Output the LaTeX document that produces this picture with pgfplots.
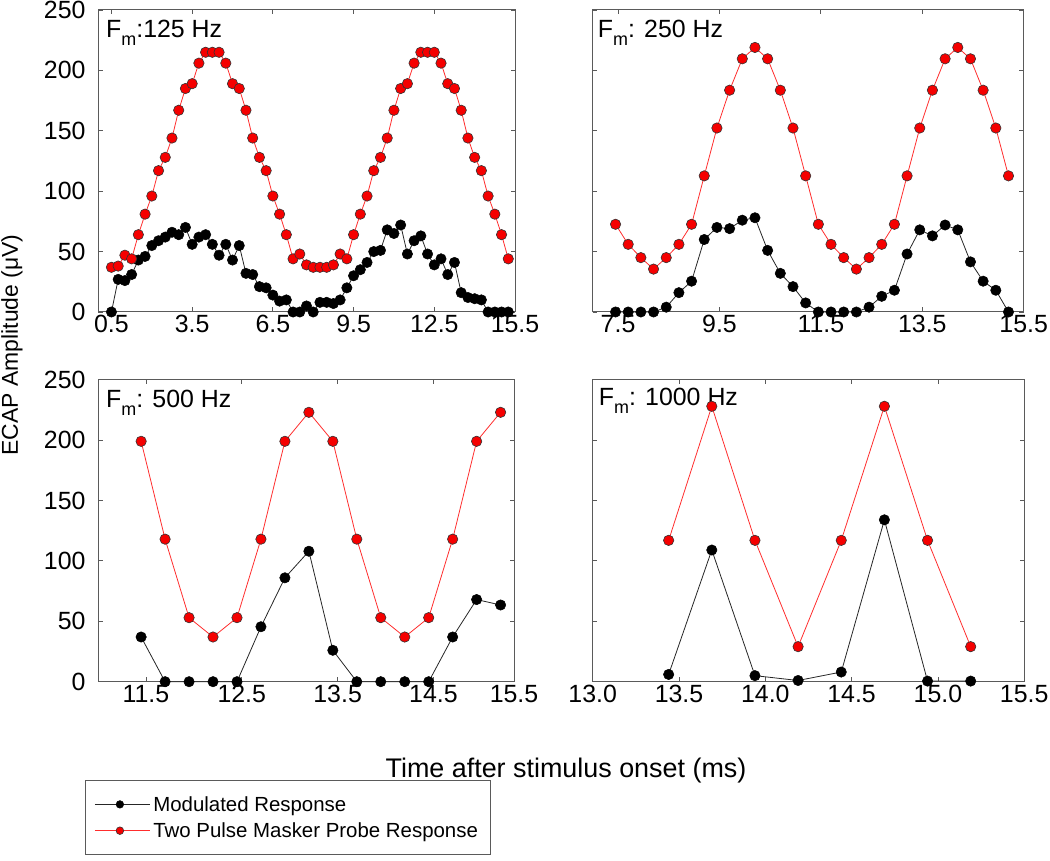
\documentclass[border=0pt]{standalone}
\usepackage{fontspec}
\setmainfont{Liberation Sans}
\usepackage{pgfplots}
\pgfplotsset{compat=1.18}
\definecolor{axgray}{RGB}{90,90,90}
\definecolor{redline}{RGB}{255,45,45}
\definecolor{redfill}{RGB}{245,0,0}
\newcommand{\tfont}{\fontsize{25}{29}\selectfont}
\newcommand{\Fm}[1]{F\raisebox{-0.33em}{\fontsize{18}{18}\selectfont m}#1}
\pgfplotsset{
  panel/.style={
    scale only axis,
    height=302bp,
    ymin=0, ymax=250,
    ytick={0,50,100,150,200,250},
    axis line style={axgray, line width=1bp},
    every tick/.style={axgray, line width=0.8bp},
    tick align=inside,
    major tick length=4.5bp,
    tick label style={font=\tfont, text=black},
    yticklabel style={xshift=-9bp},
    /pgf/number format/assume math mode=true,
    clip=false,
  },
  leftp/.style={yticklabels={0,50,100,150,200,250}},
  rightp/.style={yticklabels={}},
  blk/.style={color=black!85, line width=0.8bp, mark=*, mark size=5.2bp,
    mark options={fill=black, draw=black, solid, line width=0.5bp}},
  rd/.style={color=redline, line width=0.8bp, mark=*, mark size=5.2bp,
    mark options={fill=redfill, draw=black!80, solid, line width=0.6bp}},
}
\begin{document}
\begin{tikzpicture}
\path[use as bounding box] (0,0) rectangle (1050bp,861bp);

% ---------- Panel 1: 125 Hz ----------
\begin{axis}[panel, leftp, at={(98bp,549bp)}, anchor=south west, width=417bp,
  xmin=0, xmax=15.5,
  xtick={0.5,3.5,6.5,9.5,12.5,15.5},
  xticklabels={0.5,3.5,6.5,9.5,12.5,15.5}]
\addplot[blk] coordinates {
(0.5,0)(0.75,27)(1,26)(1.25,31)(1.5,43)(1.75,46)(2,55)(2.25,59)(2.5,62)(2.75,66)
(3,64)(3.25,70)(3.5,56)(3.75,62)(4,64)(4.25,56)(4.5,47)(4.75,56)(5,43)(5.25,55)
(5.5,32)(5.75,31)(6,21)(6.25,20)(6.5,14)(6.75,9)(7,10)(7.25,0)(7.5,0)(7.75,5)
(8,0)(8.25,8)(8.5,8)(8.75,7)(9,10)(9.25,20)(9.5,30)(9.75,35)(10,41)(10.25,50)
(10.5,51)(10.75,68)(11,65)(11.25,72)(11.5,48)(11.75,59)(12,63)(12.25,48)(12.5,39)(12.75,44)
(13,31)(13.25,41)(13.5,16)(13.75,12)(14,11)(14.25,10)(14.5,0)(14.75,0)(15,0)(15.25,0)};
\addplot[rd] coordinates {
(0.5,37)(0.75,38)(1,47)(1.25,44)(1.5,64)(1.75,81)(2,96)(2.25,117)(2.5,128)(2.75,144)
(3,167)(3.25,185)(3.5,189)(3.75,206)(4,215)(4.25,215)(4.5,215)(4.75,206)(5,189)(5.25,185)
(5.5,167)(5.75,144)(6,128)(6.25,117)(6.5,96)(6.75,81)(7,64)(7.25,44)(7.5,48)(7.75,39)
(8,37)(8.25,37)(8.5,37)(8.75,39)(9,48)(9.25,44)(9.5,64)(9.75,81)(10,96)(10.25,117)
(10.5,128)(10.75,144)(11,167)(11.25,185)(11.5,189)(11.75,206)(12,215)(12.25,215)(12.5,215)(12.75,206)
(13,189)(13.25,185)(13.5,167)(13.75,144)(14,128)(14.25,117)(14.5,96)(14.75,81)(15,64)(15.25,44)};
\node[anchor=base west, inner sep=0, font=\tfont] at (rel axis cs:0,1) [xshift=8bp, yshift=-27.5bp] {\Fm{:125 Hz}};
\end{axis}

% ---------- Panel 2: 250 Hz ----------
\begin{axis}[panel, rightp, at={(592.7bp,549bp)}, anchor=south west, width=431bp,
  xmin=7, xmax=15.5,
  xtick={7.5,9.5,11.5,13.5,15.5},
  xticklabels={7.5,9.5,11.5,13.5,15.5}]
\addplot[blk] coordinates {
(7.45,0)(7.7,0)(7.95,0)(8.2,0)(8.45,4)(8.7,16)(8.95,25.5)(9.2,60)(9.45,70)(9.7,69)
(9.95,76)(10.2,78)(10.45,51)(10.7,32)(10.95,21)(11.2,7.5)(11.45,0)(11.7,0)(11.95,0)(12.2,0)
(12.45,4)(12.7,13)(12.95,18)(13.2,48)(13.45,68)(13.7,63)(13.95,72)(14.2,68)(14.45,41.5)(14.7,25.5)
(14.95,18)(15.2,0)};
\addplot[rd] coordinates {
(7.45,72.6)(7.7,56)(7.95,45)(8.2,35.5)(8.45,45)(8.7,56)(8.95,72.6)(9.2,112.7)(9.45,152.3)(9.7,183.6)
(9.95,209.6)(10.2,219)(10.45,209.6)(10.7,183.6)(10.95,152.3)(11.2,112.7)(11.45,72.6)(11.7,56)(11.95,45)(12.2,35.5)
(12.45,45)(12.7,56)(12.95,72.6)(13.2,112.7)(13.45,152.3)(13.7,183.6)(13.95,209.6)(14.2,219)(14.45,209.6)(14.7,183.6)
(14.95,152.3)(15.2,112.7)};
\node[anchor=base west, inner sep=0, font=\tfont] at (rel axis cs:0,1) [xshift=5bp, yshift=-27.5bp] {\Fm{: 250 Hz}};
\end{axis}

% ---------- Panel 3: 500 Hz ----------
\begin{axis}[panel, leftp, at={(98bp,179.3bp)}, anchor=south west, width=416bp,
  xmin=11, xmax=15.34,
  xtick={11.5,12.5,13.5,14.5,15.34},
  xticklabels={11.5,12.5,13.5,14.5,15.5},
  legend style={at={(-0.031,-0.325)}, anchor=north west, draw=axgray, line width=0.8bp,
    font=\fontsize{20.5}{24}\selectfont, inner xsep=9bp, inner ysep=13bp, row sep=4bp,
    nodes={inner sep=3bp}},
  legend cell align=left,
  legend image code/.code={\path (0bp,0bp) -- (55bp,0bp);
    \draw[mark repeat=2, mark phase=2, mark size=3.8bp]
    plot coordinates {(2bp,0bp) (25bp,0bp) (48bp,0bp)};}]
\addplot[blk] coordinates {
(11.45,37)(11.7,0)(11.95,0)(12.2,0)(12.45,0)(12.7,45.5)(12.95,86)(13.2,108)
(13.45,26)(13.7,0)(13.95,0)(14.2,0)(14.45,0)(14.7,37)(14.95,68)(15.2,63.5)};
\addlegendentry{Modulated Response}
\addplot[rd] coordinates {
(11.45,199)(11.7,118)(11.95,53)(12.2,37)(12.45,53)(12.7,118)(12.95,199)(13.2,223)
(13.45,199)(13.7,118)(13.95,53)(14.2,37)(14.45,53)(14.7,118)(14.95,199)(15.2,223)};
\addlegendentry{Two Pulse Masker Probe Response}
\node[anchor=base west, inner sep=0, font=\tfont] at (rel axis cs:0,1) [xshift=8bp, yshift=-27.5bp] {\Fm{: 500 Hz}};
\end{axis}

% ---------- Panel 4: 1000 Hz ----------
\begin{axis}[panel, rightp, at={(592.7bp,179.3bp)}, anchor=south west, width=431.5bp,
  xmin=13, xmax=15.5,
  xtick={13,13.5,14,14.5,15,15.5},
  xticklabels={13.0,13.5,14.0,14.5,15.0,15.5}]
\addplot[blk] coordinates {
(13.44,6)(13.69,109)(13.94,5)(14.19,1)(14.44,8)(14.69,134)(14.94,0.5)(15.19,0.5)};
\addplot[rd] coordinates {
(13.44,117)(13.69,228)(13.94,117)(14.19,29)(14.44,117)(14.69,228)(14.94,117)(15.19,29)};
\node[anchor=base west, inner sep=0, font=\tfont] at (rel axis cs:0,1) [xshift=6bp, yshift=-25.5bp] {\Fm{: 1000 Hz}};
\end{axis}

\node[font=\fontsize{27}{31}\selectfont] at (566bp,90bp) {Time after stimulus onset (ms)};
\node[font=\fontsize{23}{27}\selectfont, rotate=90] at (12bp,516bp) {ECAP Amplitude (μV)};
\end{tikzpicture}
\end{document}
